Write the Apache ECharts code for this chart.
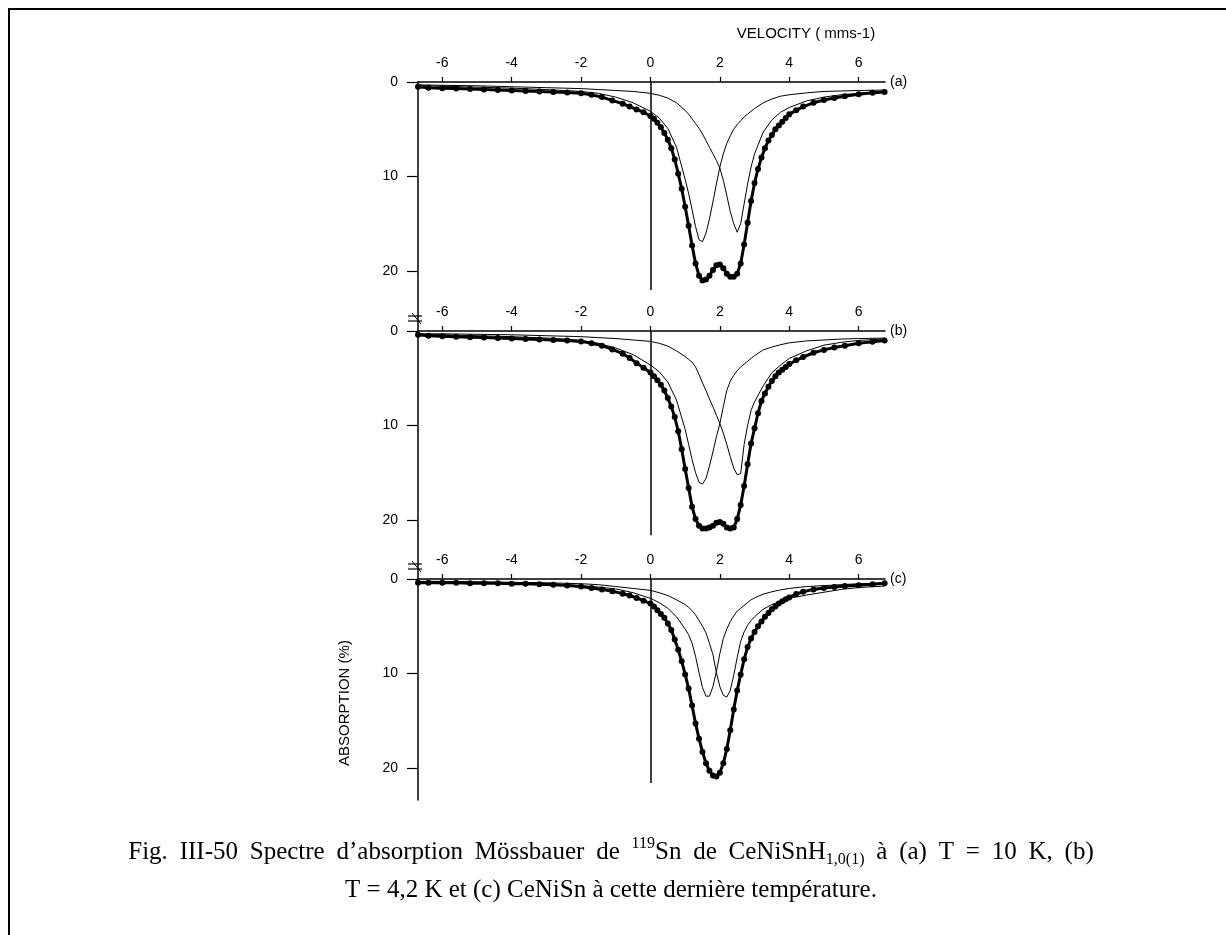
<!DOCTYPE html>
<html>
<head>
<meta charset="utf-8">
<script src="https://cdn.jsdelivr.net/npm/echarts@6/dist/echarts.min.js"></script>
<style>
  html, body { margin: 0; padding: 0; background: #fff; }
  #chart { width: 1226px; height: 935px; }
</style>
</head>
<body>
<div id="chart"></div>
<script>
// velocity (mm/s) of the measured points
const velocityData = [
  -6.7, -6.4, -6.0, -5.6, -5.2, -4.8, -4.4, -4.0, -3.6, -3.2, -2.8, -2.4, -2.0, -1.7, -1.4, -1.1, -0.8, -0.6, -0.4, -0.2,
  0.0, 0.1, 0.2, 0.3, 0.4, 0.5, 0.6, 0.7, 0.8, 0.9, 1.0,
  1.1, 1.2, 1.3, 1.4, 1.5, 1.6, 1.7, 1.8, 1.9, 2.0,
  2.1, 2.2, 2.3, 2.4, 2.5, 2.6, 2.7, 2.8, 2.9, 3.0,
  3.1, 3.2, 3.3, 3.4, 3.5, 3.6, 3.7, 3.8, 3.9, 4.0,
  4.2, 4.4, 4.7, 5.0, 5.3, 5.6, 6.0, 6.4, 6.75,
];

// absorption (%) measured, (a) T = 10 K
const absorptionA = [
  0.5, 0.6, 0.65, 0.7, 0.75, 0.8, 0.85, 0.9, 0.95, 1.0, 1.05, 1.1, 1.2, 1.35, 1.6, 1.95, 2.3, 2.6, 2.9, 3.2,
  3.6, 3.9, 4.3, 4.8, 5.4, 6.1, 7.0, 8.2, 9.7, 11.3, 13.2,
  15.2, 17.3, 19.2, 20.5, 21.0, 20.9, 20.5, 19.9, 19.4, 19.3,
  19.7, 20.3, 20.6, 20.6, 20.3, 19.2, 17.2, 14.9, 12.6, 10.7,
  9.2, 8.0, 7.0, 6.2, 5.6, 5.0, 4.6, 4.2, 3.8, 3.4,
  3.0, 2.6, 2.2, 1.9, 1.7, 1.5, 1.3, 1.15, 1.05,
];

// (b) T = 4,2 K
const absorptionB = [
  0.4, 0.5, 0.55, 0.6, 0.65, 0.7, 0.75, 0.8, 0.85, 0.9, 0.95, 1.0, 1.1, 1.3, 1.55, 1.95, 2.4, 2.85, 3.4, 3.9,
  4.4, 4.8, 5.2, 5.7, 6.3, 7.1, 8.0, 9.1, 10.6, 12.5, 14.6,
  16.6, 18.6, 19.9, 20.6, 20.9, 20.9, 20.8, 20.6, 20.3, 20.2,
  20.4, 20.8, 20.9, 20.8, 19.9, 18.4, 16.4, 14.1, 11.9, 10.3,
  8.7, 7.4, 6.6, 5.9, 5.3, 4.8, 4.4, 4.1, 3.8, 3.5,
  3.1, 2.75, 2.3, 2.0, 1.75, 1.55, 1.3, 1.15, 1.0,
];

// (c) CeNiSn
const absorptionC = [
  0.4, 0.4, 0.4, 0.4, 0.45, 0.45, 0.45, 0.5, 0.5, 0.55, 0.6, 0.7, 0.8, 0.95, 1.1, 1.3, 1.55, 1.75, 2.0, 2.3,
  2.6, 2.9, 3.3, 3.7, 4.1, 4.7, 5.4, 6.4, 7.5, 8.7, 10.1,
  11.6, 13.4, 15.3, 16.9, 18.3, 19.5, 20.3, 20.8, 20.9, 20.5,
  19.5, 18.0, 16.0, 13.8, 11.8, 10.1, 8.5, 7.2, 6.3, 5.6,
  5.0, 4.5, 4.0, 3.6, 3.2, 2.9, 2.6, 2.35, 2.15, 1.95,
  1.6, 1.35, 1.1, 0.95, 0.85, 0.75, 0.65, 0.55, 0.45,
];

// velocity of the fitted sub-spectra
const velocityFit = [
  -6.7, -6, -5, -4, -3, -2.5, -2, -1.5, -1, -0.5,
  0, 0.25, 0.5, 0.75,
  1.0, 1.1, 1.2, 1.3, 1.4, 1.5, 1.6, 1.7, 1.8, 1.9, 2.0,
  2.1, 2.2, 2.3, 2.4, 2.5, 2.6, 2.7, 2.8, 2.9, 3.0,
  3.25, 3.5, 3.75, 4.0,
  4.5, 5.0, 5.5, 6.0, 6.75,
];

const subA1 = [
  0.4, 0.45, 0.55, 0.65, 0.8, 0.9, 1.0, 1.2, 1.6, 2.2,
  3.1, 3.8, 4.9, 6.9,
  10.3, 11.8, 13.5, 15.3, 16.7, 16.9, 16.0, 14.5, 12.7, 10.8, 9.0,
  7.6, 6.5, 5.7, 5.0, 4.5, 4.1, 3.7, 3.4, 3.1, 2.8,
  2.2, 1.8, 1.5, 1.35,
  1.15, 1.0, 0.95, 0.9, 0.85,
];
const subA2 = [
  0.3, 0.35, 0.4, 0.5, 0.6, 0.65, 0.7, 0.8, 0.9, 1.0,
  1.2, 1.4, 1.7, 2.2,
  3.0, 3.4, 3.9, 4.4, 4.9, 5.5, 6.2, 6.9, 7.6, 8.3, 9.1,
  10.4, 12.0, 13.7, 15.0, 15.9, 15.0, 12.9, 10.8, 9.0, 7.6,
  5.3, 4.0, 3.2, 2.7,
  2.0, 1.6, 1.35, 1.2, 1.0,
];
const subB1 = [
  0.35, 0.4, 0.5, 0.6, 0.75, 0.85, 1.0, 1.3, 1.8, 2.5,
  3.6, 4.3, 5.4, 7.3,
  10.4, 12.0, 13.6, 15.0, 16.0, 16.2, 15.6, 14.3, 12.8, 11.2, 9.8,
  8.0, 6.3, 5.3, 4.7, 4.2, 3.8, 3.5, 3.2, 2.9, 2.6,
  2.0, 1.7, 1.45, 1.25,
  1.05, 0.95, 0.85, 0.8, 0.75,
];
const subB2 = [
  0.3, 0.3, 0.35, 0.4, 0.5, 0.55, 0.6, 0.7, 0.8, 0.95,
  1.1, 1.3, 1.6, 2.1,
  2.7, 3.0, 3.3, 3.8, 4.6, 5.5, 6.3, 7.2, 8.0, 8.9, 9.8,
  10.8, 12.0, 13.3, 14.5, 15.2, 15.1, 12.0, 10.0, 8.4, 7.5,
  5.8, 4.4, 3.6, 2.9,
  2.1, 1.5, 1.2, 1.0, 0.85,
];
const subC1 = [
  0.3, 0.3, 0.35, 0.4, 0.5, 0.6, 0.7, 0.85, 1.05, 1.45,
  2.05, 2.5, 3.1, 4.0,
  5.3, 5.9, 6.8, 8.2, 9.9, 11.5, 12.4, 12.4, 11.4, 9.8, 7.9,
  6.3, 5.3, 4.5, 3.9, 3.4, 3.1, 2.8, 2.5, 2.2, 2.0,
  1.6, 1.35, 1.15, 1.0,
  0.8, 0.7, 0.6, 0.5, 0.45,
];
const subC2 = [
  0.25, 0.25, 0.3, 0.35, 0.4, 0.45, 0.5, 0.6, 0.8, 1.0,
  1.2, 1.45, 1.75, 2.2,
  2.7, 3.0, 3.35, 3.8, 4.4, 5.0, 5.7, 6.8, 8.0, 9.9, 11.4,
  12.3, 12.5, 11.8, 10.2, 8.3, 6.6, 5.6, 4.9, 4.4, 4.0,
  3.2, 2.7, 2.35, 2.05,
  1.7, 1.4, 1.1, 0.9, 0.75,
];

const velocityTicks = [-6, -4, -2, 0, 2, 4, 6];
const absorptionTicks = [0, 10, 20];
const panelNames = ['(a)', '(b)', '(c)'];

// caption, first line is justified so the words are kept apart
const captionWords = [
  'Fig.', 'III-50', 'Spectre', 'd’absorption', 'Mössbauer', 'de', '{sup|119}Sn', 'de',
  'CeNiSnH{sub|1,0(1)}', 'à', '(a)', 'T', '=', '10', 'K,', '(b)',
];
const captionLine2 = 'T = 4,2 K et (c) CeNiSn à cette dernière température.';

const FONT = '"Liberation Sans", Arial, sans-serif';
const SERIF = '"Liberation Serif", "Times New Roman", serif';

// layout of the three stacked panels
const panels = [
  { data: absorptionA, sub1: subA1, sub2: subA2, top: 82, height: 249, max: 26.35, zeroEnd: 22.0 },
  { data: absorptionB, sub1: subB1, sub2: subB2, top: 331, height: 248, max: 26.24, zeroEnd: 21.6 },
  { data: absorptionC, sub1: subC1, sub2: subC2, top: 579, height: 221, max: 23.39, zeroEnd: 21.6 },
];

const pairs = (xs, ys) => xs.map((x, i) => [x, ys[i]]);

const chart = echarts.init(document.getElementById('chart'));

const grids = [];
const xAxes = [];
const yAxes = [];
const series = [];

panels.forEach((p, i) => {
  grids.push({ left: 418, width: 467, top: p.top, height: p.height, containLabel: false });

  xAxes.push({
    type: 'value',
    gridIndex: i,
    position: 'top',
    min: -6.7,
    max: 6.76,
    axisLine: { show: true, onZero: false, lineStyle: { color: '#000', width: 1.5 } },
    axisTick: { show: true, length: 5, customValues: velocityTicks, lineStyle: { color: '#000', width: 1.2 } },
    axisLabel: { customValues: velocityTicks, margin: 12, color: '#000', fontSize: 14, fontFamily: FONT },
    splitLine: { show: false },
    name: panelNames[i],
    nameLocation: 'end',
    nameGap: 5,
    nameTextStyle: { color: '#000', fontSize: 14, fontFamily: FONT, padding: [0, 0, 10, 0] },
  });

  yAxes.push({
    type: 'value',
    gridIndex: i,
    inverse: true,
    min: 0,
    max: p.max,
    axisLine: { show: true, onZero: false, lineStyle: { color: '#000', width: 1.5 } },
    axisTick: { show: true, length: 11, customValues: absorptionTicks, lineStyle: { color: '#000', width: 1.2 } },
    axisLabel: {
      customValues: absorptionTicks,
      margin: 20,
      padding: [0, 0, 10, 0],
      color: '#000',
      fontSize: 14,
      fontFamily: FONT,
    },
    splitLine: { show: false },
  });

  const thin = { color: '#000', width: 1 };
  series.push({
    type: 'line',
    xAxisIndex: i,
    yAxisIndex: i,
    data: pairs(velocityFit, p.sub1),
    showSymbol: false,
    lineStyle: thin,
    itemStyle: { color: '#000' },
    z: 2,
    silent: true,
    markLine: {
      silent: true,
      symbol: ['none', 'none'],
      label: { show: false },
      lineStyle: { color: '#000', width: 1.5, type: 'solid' },
      data: [[{ coord: [0, 0] }, { coord: [0, p.zeroEnd] }]],
    },
  });
  series.push({
    type: 'line',
    xAxisIndex: i,
    yAxisIndex: i,
    data: pairs(velocityFit, p.sub2),
    showSymbol: false,
    lineStyle: thin,
    itemStyle: { color: '#000' },
    z: 2,
    silent: true,
  });
  series.push({
    type: 'line',
    xAxisIndex: i,
    yAxisIndex: i,
    data: pairs(velocityData, p.data),
    symbol: 'circle',
    symbolSize: 6,
    showAllSymbol: true,
    lineStyle: { color: '#000', width: 3 },
    itemStyle: { color: '#000' },
    z: 3,
    silent: true,
  });
});

chart.setOption({
  animation: false,
  backgroundColor: '#fff',
  grid: grids,
  xAxis: xAxes,
  yAxis: yAxes,
  series,
});

// axis-break marks next to the zero of panels (b) and (c)
const breakMarks = [];
[1, 2].forEach((gi) => {
  const pt = chart.convertToPixel({ gridIndex: gi }, [-6.7, 0]);
  const bx = pt[0];
  const by = pt[1];
  breakMarks.push(
    { type: 'line', shape: { x1: bx - 10, y1: by - 15, x2: bx + 4, y2: by - 15 }, style: { stroke: '#000', lineWidth: 1.2 } },
    { type: 'line', shape: { x1: bx - 10, y1: by - 10, x2: bx + 4, y2: by - 10 }, style: { stroke: '#000', lineWidth: 1.2 } },
    { type: 'line', shape: { x1: bx - 6, y1: by - 18, x2: bx + 3, y2: by - 7 }, style: { stroke: '#000', lineWidth: 1 } }
  );
});

chart.setOption({
  graphic: [
    // page frame
    { type: 'line', shape: { x1: 8, y1: 9, x2: 1226, y2: 9 }, style: { stroke: '#000', lineWidth: 2 } },
    { type: 'line', shape: { x1: 9, y1: 8, x2: 9, y2: 935 }, style: { stroke: '#000', lineWidth: 2 } },
    {
      type: 'text',
      x: 806,
      y: 34,
      style: {
        text: 'VELOCITY ( mms-1)',
        fill: '#000',
        fontSize: 15,
        fontFamily: FONT,
        align: 'center',
        verticalAlign: 'middle',
      },
    },
    {
      type: 'text',
      x: 345,
      y: 703,
      rotation: Math.PI / 2,
      style: {
        text: 'ABSORPTION (%)',
        fill: '#000',
        fontSize: 15,
        fontFamily: FONT,
        align: 'center',
        verticalAlign: 'middle',
      },
    },
    {
      type: 'text',
      x: 611,
      y: 852,
      style: {
        text: captionWords.join('{sp| }'),
        fill: '#000',
        fontSize: 25,
        fontFamily: SERIF,
        lineHeight: 32,
        align: 'center',
        verticalAlign: 'middle',
        rich: {
          sp: { width: 11.8, fontSize: 25, fontFamily: SERIF },
          sup: { fontSize: 16, lineHeight: 18, fontFamily: SERIF, verticalAlign: 'top' },
          sub: { fontSize: 16, lineHeight: 18, fontFamily: SERIF, verticalAlign: 'bottom' },
        },
      },
    },
    {
      type: 'text',
      x: 611,
      y: 890,
      style: {
        text: captionLine2,
        fill: '#000',
        fontSize: 25,
        fontFamily: SERIF,
        align: 'center',
        verticalAlign: 'middle',
      },
    },
    ...breakMarks,
  ],
});
</script>
</body>
</html>
